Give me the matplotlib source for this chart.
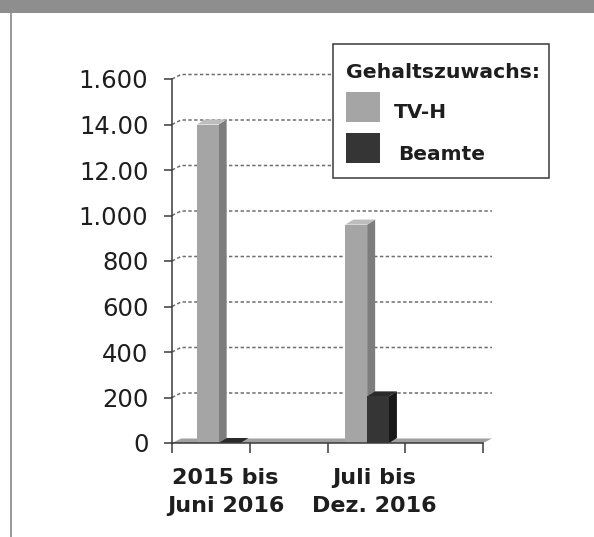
import matplotlib
matplotlib.use('Agg')
import matplotlib.pyplot as plt
from matplotlib.patches import Polygon, Rectangle
from matplotlib.transforms import blended_transform_factory

# Data
categories = ['2015 bis\nJuni 2016', 'Juli bis\nDez. 2016']
tvh_values = [1400, 960]
beamte_values = [0, 205]
y_ticks = [0, 200, 400, 600, 800, 1000, 1200, 1400, 1600]
y_tick_labels = ['0', '200', '400', '600', '800', '1.000', '12.00', '14.00', '1.600']
legend_title = 'Gehaltszuwachs:'
series_names = ['TV-H', 'Beamte']

W, H = 594, 537
fig = plt.figure(figsize=(W / 100, H / 100), dpi=100, facecolor='white')

# page decoration: gray band on top, gray rule on the left
fig.patches.append(Rectangle((0, 1 - 13 / H), 1, 13 / H, transform=fig.transFigure,
                             facecolor='#8e8e8e', edgecolor='none', zorder=0))
fig.patches.append(Rectangle((9.5 / W, 0), 2.5 / W, 1 - 13 / H, transform=fig.transFigure,
                             facecolor='#9a9a9a', edgecolor='none', zorder=0))

# axes placed in pixel terms
ax_left, ax_right, ax_top, ax_bot = 172, 483, 79, 443
ax = fig.add_axes([ax_left / W, 1 - ax_bot / H, (ax_right - ax_left) / W, (ax_bot - ax_top) / H])
xmax, ymax = 4.0, 1600.0
ax.set_xlim(0, xmax)
ax.set_ylim(0, ymax)
ax.set_facecolor('none')

px_x = xmax / (ax_right - ax_left)
px_y = ymax / (ax_bot - ax_top)
wall_dx, wall_dy = 9 * px_x, 4.5 * px_y
bar_dx, bar_dy = 8 * px_x, 5 * px_y

# gridlines with a small 3D back-wall offset
for v in y_ticks[1:]:
    ax.plot([0, wall_dx, xmax + wall_dx], [v, v + wall_dy, v + wall_dy],
            color='#6e6e6e', linestyle=(0, (2.2, 1.6)), linewidth=1.1,
            clip_on=False, zorder=1)

# floor
ax.add_patch(Polygon([(0, 0), (xmax, 0), (xmax + wall_dx, wall_dy), (wall_dx, wall_dy)],
                     closed=True, facecolor='#a0a0a0', edgecolor='none',
                     clip_on=False, zorder=2))


def bar3d(x0, width, value, front, side, top):
    x1 = x0 + width
    ax.add_patch(Polygon([(x1, 0), (x1 + bar_dx, bar_dy), (x1 + bar_dx, value + bar_dy), (x1, value)],
                         closed=True, facecolor=side, edgecolor='none', clip_on=False, zorder=3))
    ax.add_patch(Polygon([(x0, value), (x0 + bar_dx, value + bar_dy),
                          (x1 + bar_dx, value + bar_dy), (x1, value)],
                         closed=True, facecolor=top, edgecolor='none', clip_on=False, zorder=3))
    ax.add_patch(Rectangle((x0, 0), width, value, facecolor=front, edgecolor='none',
                           clip_on=False, zorder=3))


group_x = [0.6, 2.51]
bw = 0.28
for gx, tv, be in zip(group_x, tvh_values, beamte_values):
    bar3d(gx - bw, bw, tv, '#a5a5a5', '#7d7d7d', '#bdbdbd')
    bar3d(gx, bw, be, '#353535', '#171717', '#2a2a2a')

# axes styling
for s in ['top', 'right']:
    ax.spines[s].set_visible(False)
ax.spines['left'].set_color('#3a3a3a')
ax.spines['bottom'].set_color('#3a3a3a')
ax.spines['left'].set_linewidth(1.1)
ax.spines['bottom'].set_linewidth(1.1)
ax.spines['bottom'].set_zorder(4)

ax.set_yticks(y_ticks)
ax.set_yticklabels(y_tick_labels, fontsize=17.5, color='#1e1e1e', family='DejaVu Sans')
ax.tick_params(axis='y', length=6, width=1.1, color='#3a3a3a', pad=11)
ax.set_xticks([0, 1, 2, 3, 4])
ax.set_xticklabels([])
ax.tick_params(axis='x', length=7.2, width=1.1, color='#3a3a3a')

trans = blended_transform_factory(ax.transData, ax.transAxes)
for gx, lab in zip(group_x, categories):
    ax.text(gx + 0.09, -25 / (ax_bot - ax_top), lab, transform=trans, ha='center', va='top',
            fontsize=16, fontweight='bold', color='#1e1e1e', linespacing=1.5)

# legend box drawn in pixel coordinates
def fx(x):
    return x / W


def fy(y):
    return 1 - y / H


fig.patches.append(Rectangle((fx(333), fy(178)), fx(549) - fx(333), fy(44) - fy(178),
                             transform=fig.transFigure, facecolor='white',
                             edgecolor='#3a3a3a', linewidth=1.1, zorder=5))
fig.text(fx(346), fy(72), legend_title, fontsize=14.7, fontweight='bold',
         color='#1e1e1e', va='center', ha='left', zorder=6)
for name, color, yc, xt in zip(series_names, ['#a5a5a5', '#353535'], [107, 148], [394, 398]):
    fig.patches.append(Rectangle((fx(346), fy(yc + 15)), 34 / W, 30 / H,
                                 transform=fig.transFigure, facecolor=color,
                                 edgecolor='none', zorder=6))
    fig.text(fx(xt), fy(yc + 6), name, fontsize=14.5, fontweight='bold',
             color='#1e1e1e', va='center', ha='left', zorder=6)

fig.savefig('out.png', dpi=100, facecolor='white')
